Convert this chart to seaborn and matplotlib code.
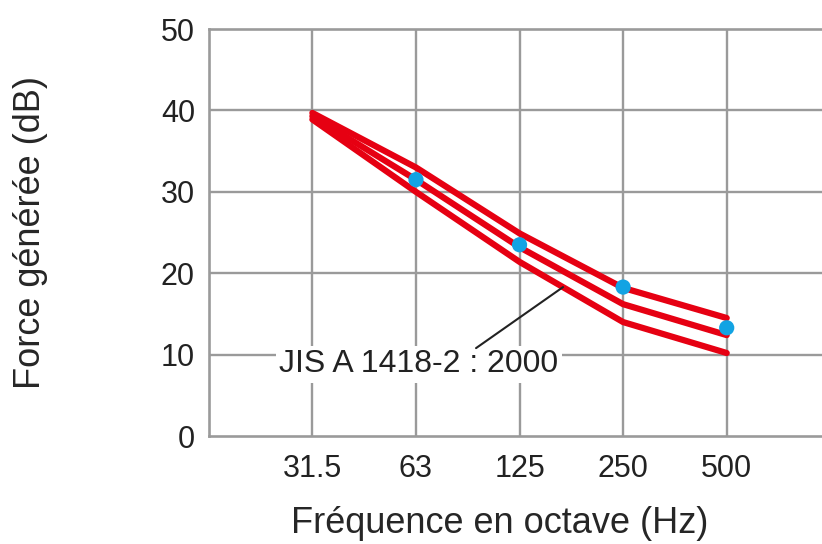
import matplotlib
matplotlib.use("Agg")
import matplotlib.pyplot as plt
import seaborn as sns
import pandas as pd

freqs = ["31.5", "63", "125", "250", "500"]
upper = [39.7, 33.0, 24.9, 18.2, 14.5]
middle = [39.3, 31.5, 23.2, 16.2, 12.4]
lower = [38.9, 30.0, 21.4, 14.0, 10.2]
measured_freqs = ["63", "125", "250", "500"]
measured = [31.5, 23.5, 18.3, 13.3]
y_ticks = [0, 10, 20, 30, 40, 50]
y_minor = [5, 15, 25, 35, 45]
annot_text = "JIS A 1418-2 : 2000"

sns.set_style("white")
plt.rcParams["font.family"] = ["Liberation Sans", "DejaVu Sans"]

red = "#e60012"
blue = "#12a3e3"
grid_c = "#9a9a9a"

df = pd.DataFrame({
    "freq": freqs * 3,
    "val": upper + middle + lower,
    "curve": ["upper"] * 5 + ["middle"] * 5 + ["lower"] * 5,
})
dm = pd.DataFrame({"freq": measured_freqs, "val": measured})

fig = plt.figure(figsize=(8.22, 5.44), dpi=100)
ax = fig.add_axes([0.254, 0.1985, 0.746, 0.748])

sns.lineplot(data=df, x="freq", y="val", hue="curve",
             palette=[red, red, red], lw=4.5, legend=False, ax=ax,
             solid_capstyle="round", solid_joinstyle="round", zorder=3, sort=False)
sns.scatterplot(data=dm, x="freq", y="val", color=blue, s=120,
                edgecolor="none", ax=ax, zorder=4)

ax.set_xlim(-1, 4.92)
ax.set_ylim(0, 50)
ax.set_yticks(y_ticks)
ax.set_yticks(y_minor, minor=True)
ax.set_yticklabels([str(t) for t in y_ticks], fontsize=22, color="#222")
ax.tick_params(axis="y", which="major", length=0, pad=10)
ax.tick_params(axis="y", which="minor", length=13, width=1.7, color=grid_c, direction="in")
ax.tick_params(axis="x", length=0, pad=13, labelsize=22, labelcolor="#222")

for i in range(len(freqs)):
    ax.plot([i, i], [0, 50], color=grid_c, lw=1.7, zorder=1)
for t in y_ticks[1:-1]:
    ax.axhline(t, color=grid_c, lw=1.7, zorder=1)

for s in ["left", "bottom", "top"]:
    ax.spines[s].set_color(grid_c)
    ax.spines[s].set_linewidth(1.9)
ax.spines["right"].set_visible(False)

ax.annotate("", xy=(2.42, 18.3), xytext=(1.58, 10.8),
            arrowprops=dict(arrowstyle="-", color="#222", lw=1.5,
                            shrinkA=0, shrinkB=0), zorder=5)
ax.text(1.03, 8.8, annot_text, ha="center", va="center", fontsize=23,
        color="#222", zorder=2,
        bbox=dict(boxstyle="square,pad=0.1", fc="white", ec="none"))

ax.set_xlabel("Fréquence en octave (Hz)", fontsize=26)
ax.set_ylabel("Force générée (dB)", fontsize=26)
ax.xaxis.set_label_coords(0.475, -0.172)
ax.yaxis.set_label_coords(-0.262, 0.5)

fig.savefig("out.png", dpi=100)
